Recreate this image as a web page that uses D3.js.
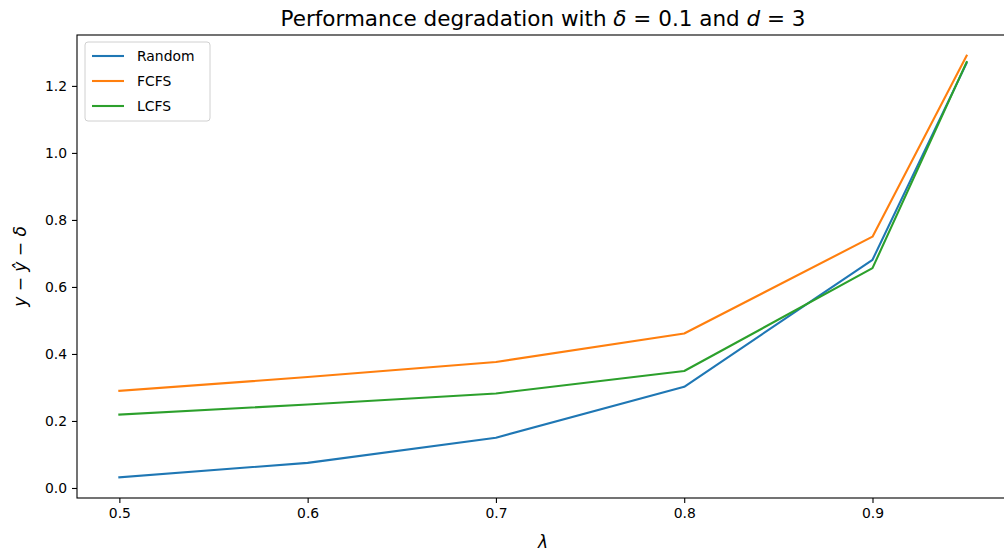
<!DOCTYPE html>
<html>
<head>
<meta charset="utf-8">
<script src="https://cdn.jsdelivr.net/npm/d3@7"></script>
<style>
  body { margin: 0; background: #fff; }
  svg { font-family: "DejaVu Sans", sans-serif; }
</style>
</head>
<body>
<script>
// data
var lambdas = [0.5, 0.6, 0.7, 0.8, 0.9, 0.95];
var randomVals = [0.032, 0.075, 0.150, 0.302, 0.681, 1.268];
var fcfsVals = [0.290, 0.331, 0.376, 0.461, 0.750, 1.290];
var lcfsVals = [0.219, 0.249, 0.282, 0.349, 0.656, 1.271];
var seriesNames = ["Random", "FCFS", "LCFS"];
var seriesColors = ["#1f77b4", "#ff7f0e", "#2ca02c"];
var xTicks = [0.5, 0.6, 0.7, 0.8, 0.9];
var yTicks = [0.0, 0.2, 0.4, 0.6, 0.8, 1.0, 1.2];

var width = 1004, height = 554;
var m = {left: 77, right: 1009, top: 35, bottom: 498};

var svg = d3.select("body").append("svg")
    .attr("width", width)
    .attr("height", height);

var x = d3.scaleLinear().domain([0.4775, 0.9725]).range([m.left, m.right]);
var y = d3.scaleLinear().domain([-0.0299, 1.3519]).range([m.bottom, m.top]);

var series = [randomVals, fcfsVals, lcfsVals];

var line = d3.line()
    .x(function(d, i) { return x(lambdas[i]); })
    .y(function(d) { return y(d); });

svg.append("defs").append("clipPath").attr("id", "clip")
    .append("rect").attr("x", m.left).attr("y", m.top)
    .attr("width", m.right - m.left).attr("height", m.bottom - m.top);

svg.append("g").attr("clip-path", "url(#clip)")
    .selectAll("path")
    .data(series)
    .enter()
    .append("path")
    .attr("d", line)
    .attr("fill", "none")
    .attr("stroke", function(d, i) { return seriesColors[i]; })
    .attr("stroke-width", 2.1)
    .attr("stroke-linejoin", "round")
    .attr("stroke-linecap", "square");

// axes
var xAxis = svg.append("g")
    .attr("transform", "translate(0," + m.bottom + ")")
    .call(d3.axisBottom(x).tickValues(xTicks).tickFormat(d3.format(".1f")).tickSize(5).tickPadding(5));
var yAxis = svg.append("g")
    .attr("transform", "translate(" + m.left + ",0)")
    .call(d3.axisLeft(y).tickValues(yTicks).tickFormat(d3.format(".1f")).tickSize(5).tickPadding(5));

[xAxis, yAxis].forEach(function(a) {
    a.select(".domain").remove();
    a.selectAll("line").attr("stroke", "#000").attr("stroke-width", 1.1);
    a.selectAll("text").attr("font-size", "13.9px").attr("fill", "#000")
        .attr("font-family", "DejaVu Sans, sans-serif");
});

// frame
svg.append("rect")
    .attr("x", m.left).attr("y", m.top)
    .attr("width", m.right - m.left).attr("height", m.bottom - m.top)
    .attr("fill", "none").attr("stroke", "#000").attr("stroke-width", 1.1);

// title
var title = svg.append("text")
    .attr("x", (m.left + m.right) / 2)
    .attr("y", 26)
    .attr("text-anchor", "middle")
    .attr("font-size", "21.5px");
title.append("tspan").text("Performance degradation with ");
title.append("tspan").attr("font-style", "italic").text("δ");
title.append("tspan").text(" = 0.1 and ");
title.append("tspan").attr("font-style", "italic").text("d");
title.append("tspan").text(" = 3");

// x label
svg.append("text")
    .attr("x", (m.left + m.right) / 2)
    .attr("y", 548)
    .attr("text-anchor", "middle")
    .attr("font-size", "17px")
    .attr("font-style", "italic")
    .text("λ");

// y label
var ylab = svg.append("text")
    .attr("transform", "translate(26," + ((m.top + m.bottom) / 2) + ") rotate(-90)")
    .attr("text-anchor", "middle")
    .attr("font-size", "17px");
ylab.append("tspan").attr("font-style", "italic").text("y");
ylab.append("tspan").text(" − ");
ylab.append("tspan").attr("font-style", "italic").text("ŷ");
ylab.append("tspan").text(" − ");
ylab.append("tspan").attr("font-style", "italic").text("δ");

// legend
var legend = svg.append("g").attr("transform", "translate(85,42)");
legend.append("rect")
    .attr("width", 125).attr("height", 79)
    .attr("rx", 3)
    .attr("fill", "#fff").attr("fill-opacity", 0.8)
    .attr("stroke", "#d0d0d0").attr("stroke-width", 1);

var entry = legend.selectAll(".entry")
    .data(seriesNames)
    .enter()
    .append("g")
    .attr("class", "entry")
    .attr("transform", function(d, i) { return "translate(0," + (14 + i * 25) + ")"; });

entry.append("line")
    .attr("x1", 7).attr("x2", 39)
    .attr("stroke", function(d, i) { return seriesColors[i]; })
    .attr("stroke-width", 2.1);

entry.append("text")
    .attr("x", 52)
    .attr("dy", "0.35em")
    .attr("font-size", "13.9px")
    .text(function(d) { return d; });
</script>
</body>
</html>
